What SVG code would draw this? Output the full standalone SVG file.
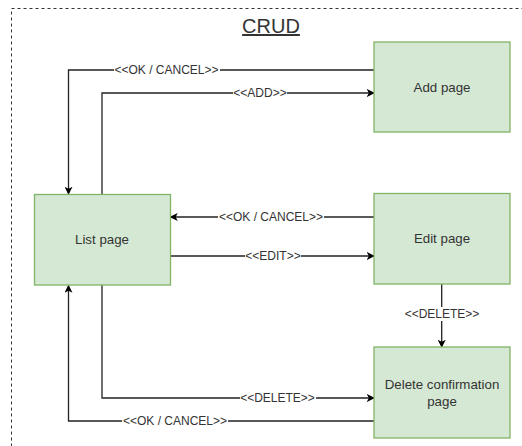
<svg xmlns="http://www.w3.org/2000/svg" width="522" height="446" viewBox="0 0 522 446">
<style>
.node{fill:#d5e8d4;stroke:#82b366;stroke-width:1.3}
.nt{font-family:"Liberation Sans",Arial,sans-serif;font-size:13.3px;fill:#333;text-anchor:middle}
.edge{fill:none;stroke:#222;stroke-width:1.3}
.lbl{font-family:"Liberation Sans",Arial,sans-serif;font-size:12px;fill:#333;text-anchor:middle}
.lbg{fill:#fff}
</style>
<defs>
<marker id="arr" viewBox="0 0 10 10" refX="9" refY="5" markerWidth="8" markerHeight="8" markerUnits="userSpaceOnUse" orient="auto">
<path d="M0,0 L10,5 L0,10 L2.5,5 Z" fill="#000"/>
</marker>
</defs>
<rect id="frame" x="11.5" y="8.5" width="530" height="460" fill="none" stroke="#333" stroke-width="1" stroke-dasharray="3,3"/>
<text x="271" y="33" font-family="'Liberation Sans',Arial,sans-serif" font-size="20" fill="#333" text-anchor="middle" text-decoration="underline">CRUD</text>
<g id="connectors">
<path class="edge" d="M374,70 H68.5 V194" marker-end="url(#arr)"/>
<path class="edge" d="M102,194 V93 H374" marker-end="url(#arr)"/>
<path class="edge" d="M374,217 H170.5" marker-end="url(#arr)"/>
<path class="edge" d="M170,256 H374" marker-end="url(#arr)"/>
<path class="edge" d="M441.7,284 V347" marker-end="url(#arr)"/>
<path class="edge" d="M102,285 V398 H374" marker-end="url(#arr)"/>
<path class="edge" d="M374,421 H68.5 V285.5" marker-end="url(#arr)"/>
<rect class="lbg" x="114" y="63" width="106" height="14"/>
<text class="lbl" x="166.5" y="74.3">&lt;&lt;OK / CANCEL&gt;&gt;</text>
<rect class="lbg" x="233" y="86" width="54" height="14"/>
<text class="lbl" x="260" y="97.3">&lt;&lt;ADD&gt;&gt;</text>
<rect class="lbg" x="218" y="210" width="106" height="14"/>
<text class="lbl" x="271" y="221.3">&lt;&lt;OK / CANCEL&gt;&gt;</text>
<rect class="lbg" x="245" y="249" width="56" height="14"/>
<text class="lbl" x="273" y="260.3">&lt;&lt;EDIT&gt;&gt;</text>
<rect class="lbg" x="404" y="307" width="76" height="14"/>
<text class="lbl" x="442" y="318.3">&lt;&lt;DELETE&gt;&gt;</text>
<rect class="lbg" x="240" y="391" width="76" height="14"/>
<text class="lbl" x="277.5" y="402.3">&lt;&lt;DELETE&gt;&gt;</text>
<rect class="lbg" x="122" y="414" width="106" height="14"/>
<text class="lbl" x="175" y="425.3">&lt;&lt;OK / CANCEL&gt;&gt;</text>
</g>
<g id="add-page">
<rect class="node" x="374" y="42" width="136" height="90"/>
<text class="nt" x="442" y="91.5">Add page</text>
</g>
<g id="list-page">
<rect class="node" x="34.5" y="194.5" width="136" height="90.5"/>
<text class="nt" x="102" y="244">List page</text>
</g>
<g id="edit-page">
<rect class="node" x="374" y="193.5" width="136" height="90.5"/>
<text class="nt" x="442" y="242.5">Edit page</text>
</g>
<g id="delete-page">
<rect class="node" x="374" y="347" width="136" height="91"/>
<text class="nt" x="442" y="388.5">Delete confirmation</text>
<text class="nt" x="442" y="405.5">page</text>
</g>
</svg>
